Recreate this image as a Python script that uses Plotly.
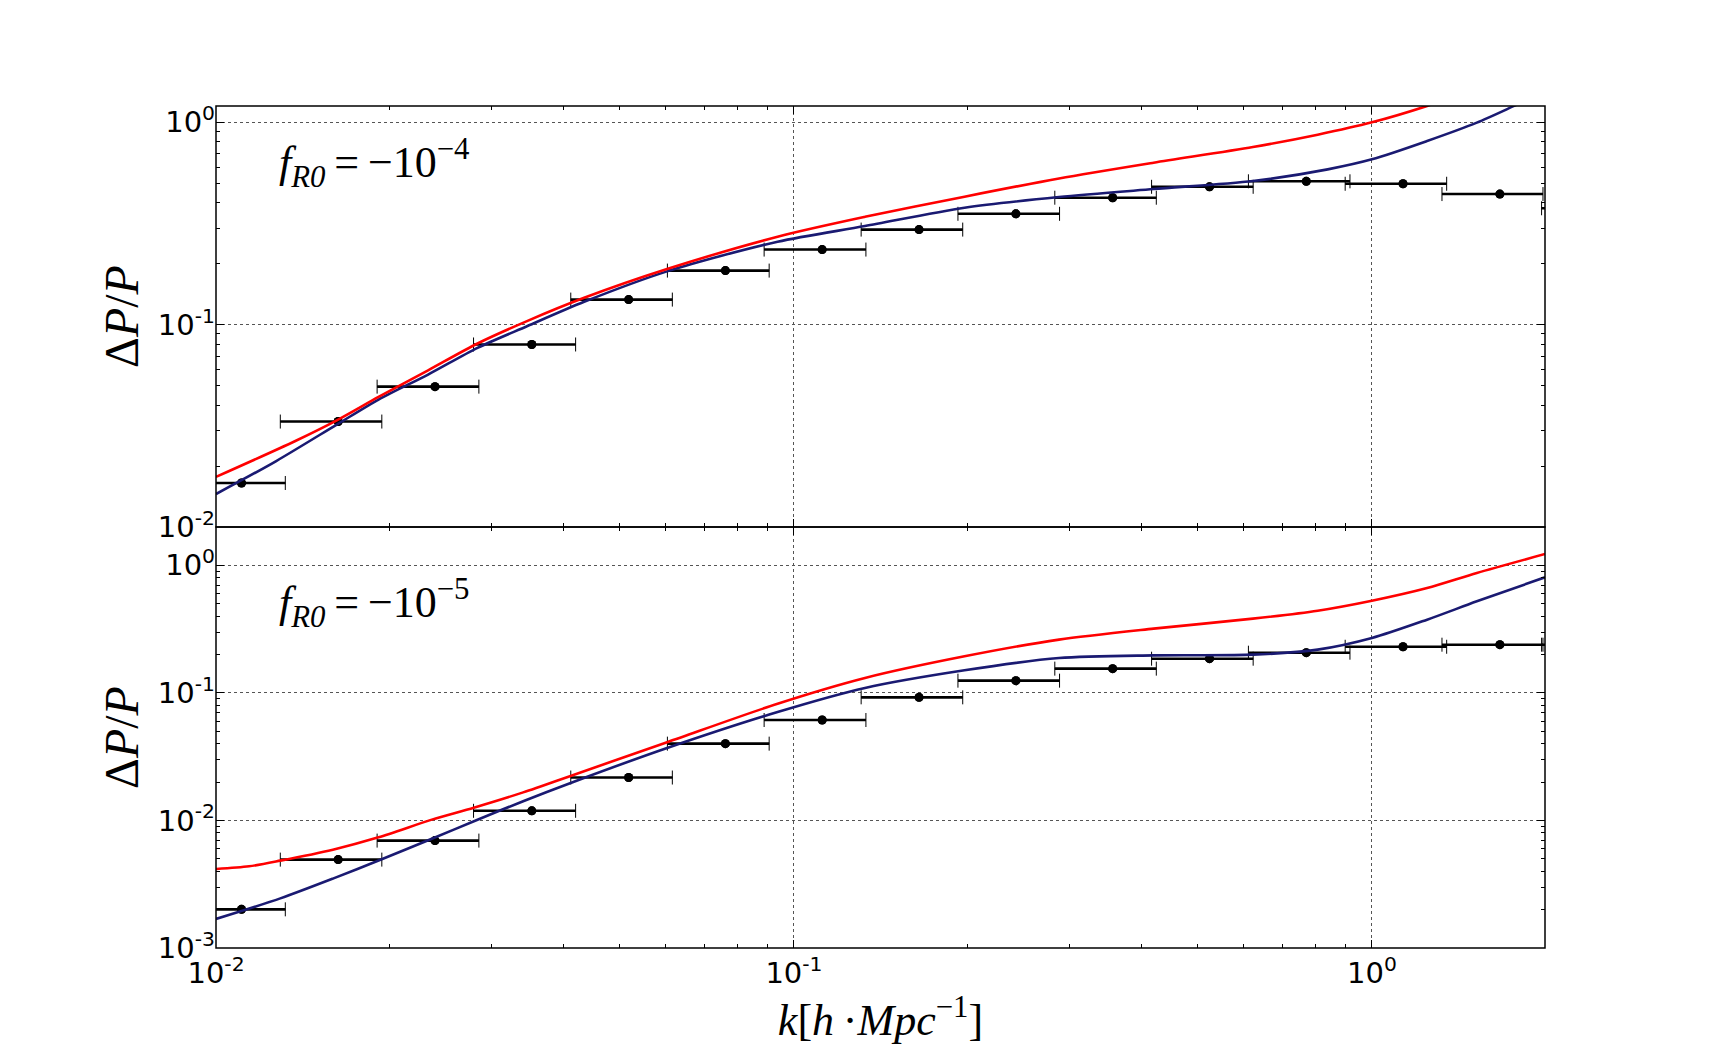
import plotly.graph_objects as go
from plotly.subplots import make_subplots

# ---------------- data ----------------
k_bins = [0.01107, 0.01627, 0.02393, 0.03519, 0.05176, 0.0761, 0.1119, 0.1646,
          0.2421, 0.356, 0.5236, 0.77, 1.132, 1.665, 2.449]
k_lo = [0.00879, 0.01292, 0.0190, 0.0279, 0.0411, 0.0604, 0.0888, 0.1307,
        0.1922, 0.2827, 0.4157, 0.6114, 0.899, 1.322, 1.966]
k_hi = [0.01318, 0.01936, 0.0285, 0.0419, 0.0616, 0.0906, 0.1332, 0.1959,
        0.2881, 0.4236, 0.6231, 0.9163, 1.347, 1.977, 2.914]

sim_f4 = [0.0165, 0.0332, 0.0494, 0.0798, 0.133, 0.185, 0.235, 0.295,
          0.353, 0.424, 0.480, 0.511, 0.497, 0.442, 0.376]
sim_f5 = [0.00201, 0.00493, 0.00695, 0.0119, 0.0217, 0.0400, 0.0613, 0.0923,
          0.1247, 0.1549, 0.1854, 0.2066, 0.230, 0.2387, 0.2387]

# model curves, f_R0 = -1e-4
red4_k = [0.0100, 0.01369, 0.01618, 0.01911, 0.02328, 0.02835, 0.03452, 0.04335,
          0.0605, 0.09369, 0.1327, 0.1973, 0.2875, 0.4191, 0.6225, 0.8057, 1.0,
          1.246, 1.995]
red4_y = [0.01768, 0.02653, 0.03365, 0.04391, 0.05949, 0.0807, 0.1041, 0.1357,
          0.1888, 0.272, 0.341, 0.4291, 0.528, 0.6317, 0.7551, 0.869, 1.0,
          1.205, 1.95]
blue4_k = [0.0100, 0.01269, 0.01618, 0.01911, 0.02328, 0.02835, 0.03452, 0.04335,
           0.0605, 0.09369, 0.1327, 0.1973, 0.2875, 0.4191, 0.6225, 0.8385, 1.0,
           1.246, 1.519, 1.762, 1.995]
blue4_y = [0.01456, 0.02113, 0.03207, 0.04264, 0.05666, 0.07679, 0.0982, 0.1297,
           0.1839, 0.2569, 0.307, 0.3784, 0.4272, 0.468, 0.5127, 0.5855, 0.6561,
           0.8085, 0.9963, 1.205, 1.42]

# model curves, f_R0 = -1e-5
red5_k = [0.0100, 0.01141, 0.01292, 0.01593, 0.01911, 0.02363, 0.02793, 0.034,
          0.04141, 0.0605, 0.09369, 0.1327, 0.1973, 0.2875, 0.4191, 0.6225,
          0.8057, 1.0, 1.246, 1.519, 1.993]
red5_y = [0.004164, 0.004369, 0.004841, 0.005903, 0.007377, 0.01015, 0.01259,
          0.0166, 0.02265, 0.04121, 0.08222, 0.1309, 0.1935, 0.2615, 0.3188,
          0.3819, 0.4412, 0.5284, 0.6645, 0.8709, 1.227]
blue5_k = [0.0100, 0.01292, 0.01593, 0.0194, 0.02363, 0.02835, 0.034, 0.04141,
           0.0605, 0.09369, 0.1327, 0.1973, 0.2875, 0.4191, 0.6225, 0.8057, 1.0,
           1.246, 1.519, 1.993]
blue5_y = [0.001689, 0.002449, 0.003499, 0.004989, 0.007194, 0.01012, 0.01416,
           0.01995, 0.03715, 0.07079, 0.1093, 0.1503, 0.1877, 0.197, 0.1994,
           0.2183, 0.2693, 0.3751, 0.5221, 0.8051]

panel_labels = ["<i>f</i><sub><i>R0</i></sub>\u2009=\u2009\u221210<sup>\u22124</sup>",
                "<i>f</i><sub><i>R0</i></sub>\u2009=\u2009\u221210<sup>\u22125</sup>"]

x_tickvals = [0.01, 0.1, 1.0]
x_ticktext = ["10<sup>-2</sup>", "10<sup>-1</sup>", "10<sup>0</sup>"]
y4_tickvals = [0.01, 0.1, 1.0]
y4_ticktext = ["10<sup>-2</sup>", "10<sup>-1</sup>", "10<sup>0</sup>"]
y5_tickvals = [0.001, 0.01, 0.1, 1.0]
y5_ticktext = ["10<sup>-3</sup>", "10<sup>-2</sup>", "10<sup>-1</sup>", "10<sup>0</sup>"]

# ---------------- styling ----------------
RED = "#ff0000"
NAVY = "#1a1a72"
TICKFONT = dict(family="DejaVu Sans", size=29, color="black")
SERIF = "Liberation Serif"

minor_vals = [m * 10.0 ** e for e in range(-4, 2) for m in range(2, 10)]

fig = make_subplots(rows=2, cols=1, shared_xaxes=True, vertical_spacing=0)

for row, sim, rk, ry, bk, by in [(1, sim_f4, red4_k, red4_y, blue4_k, blue4_y),
                                 (2, sim_f5, red5_k, red5_y, blue5_k, blue5_y)]:
    ep = [h - c for c, h in zip(k_bins, k_hi)]
    em = [c - l for c, l in zip(k_bins, k_lo)]
    # thick horizontal bars without caps
    fig.add_trace(go.Scatter(
        x=k_bins, y=sim, mode="markers",
        marker=dict(color="black", size=9),
        error_x=dict(type="data", symmetric=False, array=ep, arrayminus=em,
                     color="black", thickness=2.6, width=0),
        showlegend=False), row=row, col=1)
    # thin caps
    fig.add_trace(go.Scatter(
        x=k_bins, y=sim, mode="markers",
        marker=dict(color="black", size=9),
        error_x=dict(type="data", symmetric=False, array=ep, arrayminus=em,
                     color="black", thickness=1, width=7),
        showlegend=False), row=row, col=1)
    fig.add_trace(go.Scatter(x=bk, y=by, mode="lines",
                             line=dict(color=NAVY, width=2.6, shape="spline", smoothing=0.8),
                             showlegend=False), row=row, col=1)
    fig.add_trace(go.Scatter(x=rk, y=ry, mode="lines",
                             line=dict(color=RED, width=2.6, shape="spline", smoothing=0.8),
                             showlegend=False), row=row, col=1)

axis_common = dict(
    type="log", showline=False, mirror="allticks",
    ticks="inside", ticklen=8, tickwidth=1, tickcolor="black",
    showgrid=True, gridcolor="#555555", gridwidth=1, griddash="dot",
    zeroline=False, tickfont=TICKFONT,
    minor=dict(ticks="inside", ticklen=4, tickwidth=1, tickcolor="black",
               tickvals=minor_vals, showgrid=False),
)

fig.update_xaxes(**axis_common)
fig.update_xaxes(range=[-2, 0.2995], tickvals=x_tickvals, ticktext=x_ticktext)
fig.update_xaxes(showticklabels=False, row=1, col=1)
fig.update_xaxes(row=2, col=1, ticklabelstandoff=5,
                 title=dict(text="<i>k</i>[<i>h</i>\u2009\u00b7<i>Mpc</i><sup>\u22121</sup>]",
                            font=dict(family=SERIF, size=44, color="black"), standoff=0))

fig.update_yaxes(**axis_common)
fig.update_yaxes(row=1, col=1, range=[-2, 0.0806], tickvals=y4_tickvals, ticktext=y4_ticktext,
                 title=dict(text="\u0394<i>P</i>/<i>P</i>",
                            font=dict(family=SERIF, size=48, color="black"), standoff=4))
fig.update_yaxes(row=2, col=1, range=[-3, 0.3005], tickvals=y5_tickvals, ticktext=y5_ticktext,
                 title=dict(text="\u0394<i>P</i>/<i>P</i>",
                            font=dict(family=SERIF, size=48, color="black"), standoff=4))

# panel frames (single shared line between the panels)
for xd, yd in [("x domain", "y domain"), ("x2 domain", "y2 domain")]:
    fig.add_shape(type="rect", xref=xd, yref=yd, x0=0, x1=1, y0=0, y1=1,
                  line=dict(color="black", width=1.5), fillcolor="rgba(0,0,0,0)",
                  layer="above")

fig.add_annotation(text=panel_labels[0], xref="x domain", yref="y domain",
                   x=0.046, y=0.865, xanchor="left", yanchor="middle", showarrow=False,
                   font=dict(family=SERIF, size=44, color="black"))
fig.add_annotation(text=panel_labels[1], xref="x2 domain", yref="y2 domain",
                   x=0.046, y=0.82, xanchor="left", yanchor="middle", showarrow=False,
                   font=dict(family=SERIF, size=44, color="black"))

fig.update_layout(
    width=1716, height=1052,
    margin=dict(l=208, r=179, t=98, b=112),
    paper_bgcolor="white", plot_bgcolor="white",
    showlegend=False,
)

fig.write_html("out.html")
